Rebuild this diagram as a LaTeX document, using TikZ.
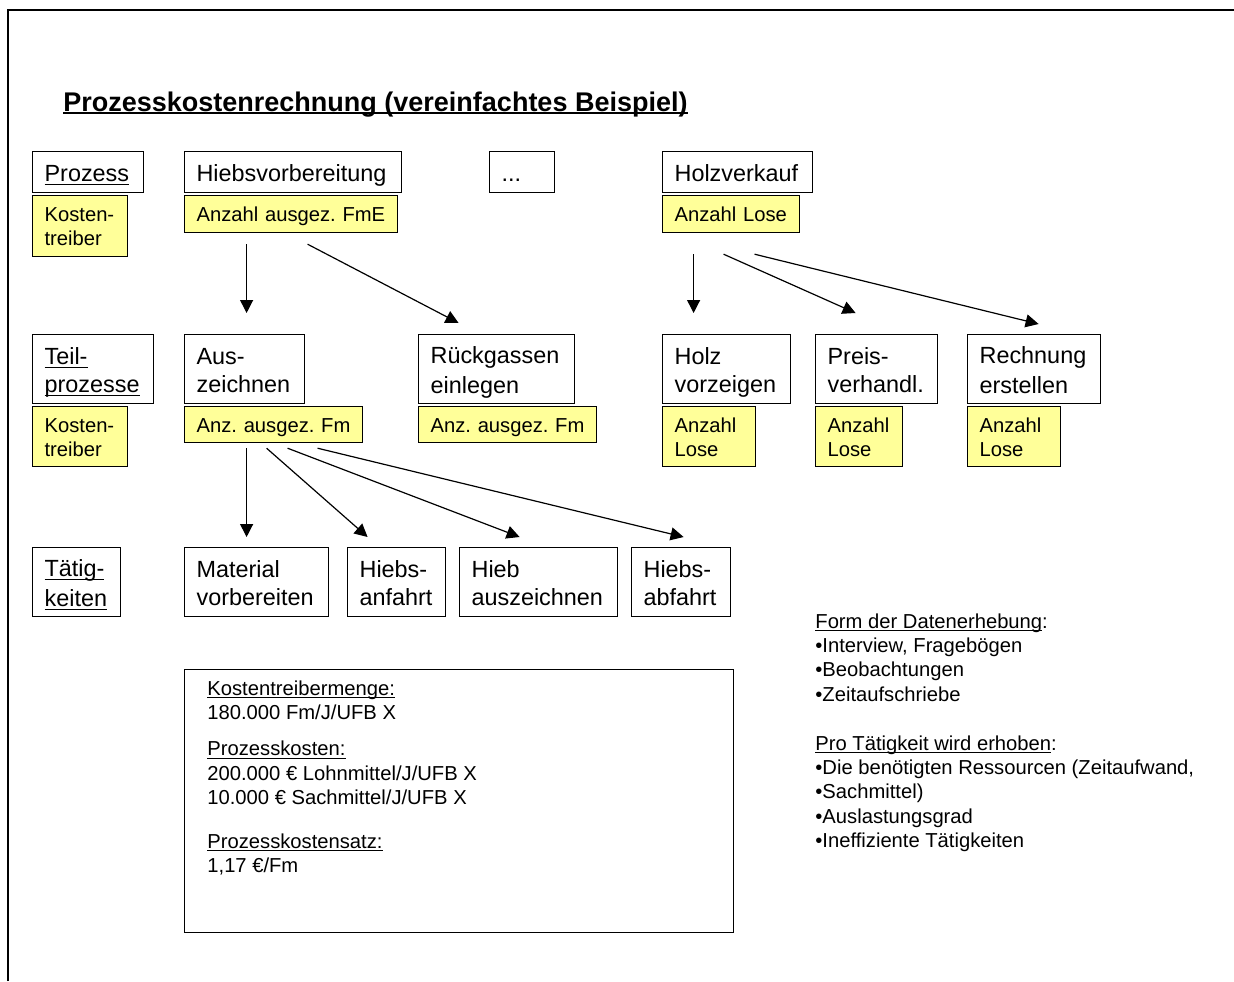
\documentclass[tikz,border=0pt]{standalone}
\usepackage{fontspec}
\setmainfont{Liberation Sans}
\usetikzlibrary{arrows.meta}
\definecolor{ktgelb}{HTML}{FFFF99}
\frenchspacing
\newcommand{\bstrut}{\rule[-2.2pt]{0pt}{13.9pt}}
\newcommand{\kstrut}{\rule[-2.2pt]{0pt}{12pt}}
\newsavebox{\ulbox}
\newcommand{\unter}[2][0.4pt]{\leavevmode\sbox{\ulbox}{#2}\rlap{\rule[-1.6pt]{\wd\ulbox}{#1}}\usebox{\ulbox}}

\begin{document}
\begin{tikzpicture}[x=0.5pt, y=-0.5pt,
    kasten/.style={draw, line width=0.6pt, anchor=north west, inner xsep=6pt, inner ysep=0pt, align=left},
    box/.style={kasten, font=\fontsize{11.7}{14}\selectfont,
                execute at begin node=\bstrut, execute at end node=\bstrut},
    kt/.style={kasten, fill=ktgelb, font=\fontsize{10.1}{12}\selectfont,
                execute at begin node=\kstrut, execute at end node=\kstrut},
    pfeil/.style={line width=0.6pt, -{Triangle[length=6.5pt,width=6.5pt]}}]

    \useasboundingbox (0,0) rectangle (1234,981);
    \draw[line width=1pt] (8,981) -- (8,10) -- (1234,10);

    \node(titel)[anchor=base west, inner sep=0pt, font=\fontsize{13.5}{16}\selectfont\bfseries] at (63,111)
        {\unter[0.9pt]{Prozesskostenrechnung (vereinfachtes Beispiel)}};

    % Prozesse
    \node(proz)[box, text width=43.5pt, minimum height=20.5pt] at (32,151) {\unter{Prozess}};
    \node(kt1)[kt, text width=35.5pt, minimum height=30.5pt] at (32,195) {Kosten-\\treiber};
    \node(hv)[box, text width=96.5pt, minimum height=20.5pt] at (184,151) {Hiebsvorbereitung};
    \node(hvk)[kt, text width=94.5pt, minimum height=18.5pt] at (184,195) {Anzahl ausgez. FmE};
    \node(dots)[box, text width=20.5pt, minimum height=20.5pt] at (489,151) {...};
    \node(hk)[box, text width=63pt, minimum height=20.5pt] at (662,151) {Holzverkauf};
    \node(hkk)[kt, text width=56.5pt, minimum height=18.5pt] at (662,195) {Anzahl Lose};

    % Teilprozesse
    \node(tp)[box, text width=48.5pt, minimum height=34.5pt] at (32,334) {\unter{Teil-}\\\unter{prozesse}};
    \node(kt2)[kt, text width=35.5pt, minimum height=30pt] at (32,406) {Kosten-\\treiber};
    \node(ausz)[box, text width=48pt, minimum height=34.5pt] at (184,334) {Aus-\\zeichnen};
    \node(auszk)[kt, text width=77pt, minimum height=18pt] at (184,406) {Anz. ausgez. Fm};
    \node(rg)[box, text width=66pt, minimum height=34.5pt] at (418,334) {Rückgassen\\einlegen};
    \node(rgk)[kt, text width=77pt, minimum height=18pt] at (418,406) {Anz. ausgez. Fm};
    \node(hvz)[box, text width=52pt, minimum height=34.5pt] at (662,334) {Holz\\vorzeigen};
    \node(hvzk)[kt, text width=34.5pt, minimum height=30pt] at (662,406) {Anzahl\\Lose};
    \node(pv)[box, text width=49pt, minimum height=34.5pt] at (815,334) {Preis-\\verhandl.};
    \node(pvk)[kt, text width=31.5pt, minimum height=30pt] at (815,406) {Anzahl\\Lose};
    \node(re)[box, text width=54.5pt, minimum height=34.5pt] at (967,334) {Rechnung\\erstellen};
    \node(rek)[kt, text width=34.5pt, minimum height=30pt] at (967,406) {Anzahl\\Lose};

    % Taetigkeiten
    \node(taet)[box, text width=32pt, minimum height=34.5pt] at (32,547) {\unter{Tätig-}\\\unter{keiten}};
    \node(mat)[box, text width=60pt, minimum height=34.5pt] at (184,547) {Material\\vorbereiten};
    \node(anf)[box, text width=37pt, minimum height=34.5pt] at (347,547) {Hiebs-\\anfahrt};
    \node(hieb)[box, text width=67pt, minimum height=34.5pt] at (459,547) {Hieb\\auszeichnen};
    \node(abf)[box, text width=37.5pt, minimum height=34.5pt] at (631,547) {Hiebs-\\abfahrt};

    \draw[pfeil] ([xshift=-22.25pt,yshift=-5.5pt]hvk.south) -- ([xshift=1pt,yshift=10.5pt]ausz.north);
    \draw[pfeil] ([xshift=8.25pt,yshift=-5.5pt]hvk.south) -- ([xshift=-19pt,yshift=5.5pt]rg.north);
    \draw[pfeil] ([xshift=-18.75pt,yshift=-10.5pt]hkk.south) -- ([xshift=-16.5pt,yshift=10.5pt]hvz.north);
    \draw[pfeil] ([xshift=-3.75pt,yshift=-10.5pt]hkk.south) -- ([xshift=-10.5pt,yshift=10.5pt]pv.north);
    \draw[pfeil] ([xshift=11.75pt,yshift=-10.5pt]hkk.south) -- ([xshift=2.25pt,yshift=5pt]re.north);
    \draw[pfeil] ([xshift=-13.5pt,yshift=-2.5pt]auszk.south) -- ([xshift=-5pt,yshift=5pt]mat.north);
    \draw[pfeil] ([xshift=-3.5pt,yshift=-2.5pt]auszk.south) -- ([xshift=-14.5pt,yshift=5pt]anf.north);
    \draw[pfeil] ([xshift=7pt,yshift=-2.5pt]auszk.south) -- ([xshift=-9.5pt,yshift=5pt]hieb.north);
    \draw[pfeil] ([xshift=22pt,yshift=-2.5pt]auszk.south) -- ([xshift=1.25pt,yshift=5pt]abf.north);

    % Kosten
    \node(kosten)[draw, line width=0.6pt, anchor=north west, minimum width=274.5pt, minimum height=131.5pt] at (184,669) {};
    \node(kostentext)[anchor=north west, inner sep=0pt, align=left, font=\fontsize{10.1}{12.3}\selectfont] at (207,680)
        {\unter{Kostentreibermenge:}\\
         180.000 Fm/J/UFB X\\[5.75pt]
         \unter{Prozesskosten:}\\
         200.000 € Lohnmittel/J/UFB X\\
         10.000 € Sachmittel/J/UFB X\\[9.25pt]
         \unter{Prozesskostensatz:}\\
         1,17 €/Fm};

    \node(erhebung)[anchor=north west, inner sep=0pt, align=left, font=\fontsize{10.1}{12.2}\selectfont] at (815,613)
        {\unter{Form der Datenerhebung}:\\
         •Interview, Fragebögen\\
         •Beobachtungen\\
         •Zeitaufschriebe\\[12.2pt]
         \unter{Pro Tätigkeit wird erhoben}:\\
         •Die benötigten Ressourcen (Zeitaufwand,\\
         •Sachmittel)\\
         •Auslastungsgrad\\
         •Ineffiziente Tätigkeiten};

\end{tikzpicture}
\end{document}
